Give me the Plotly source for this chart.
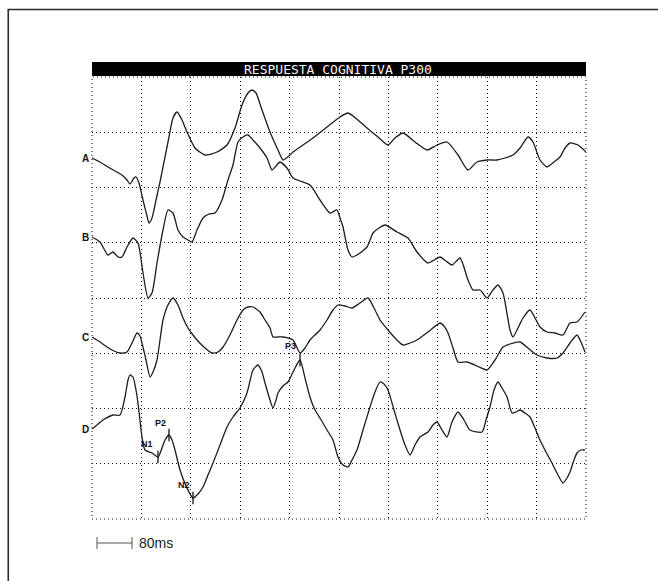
import numpy as np
import plotly.graph_objects as go

# ---- data: latency (ms) and amplitude (arbitrary units, relative to channel baseline) ----
a_t = [0, 16, 32, 46, 60, 70, 76, 84, 88, 94, 102, 110, 114, 120, 128, 136, 152, 162, 170, 180,
       190, 206, 226, 250, 270, 286, 300, 312, 320, 328, 340, 356, 372, 382, 396, 402, 442, 470,
       496, 512, 532, 550, 572, 592, 606, 622, 646, 670, 690, 710, 732, 752, 770, 790, 810, 826,
       842, 856, 872, 882, 896, 910, 924, 936, 946, 956, 972, 988]
a_v = [0, -0.4, -0.9, -1.3, -1.7, -2.2, -2.6, -2.0, -1.9, -2.5, -4.2, -5.8, -6.5, -6.0, -4.2, -2.4,
       1.6, 4.0, 4.6, 3.8, 2.6, 1.0, 0.3, 0.6, 1.3, 3.0, 5.3, 6.5, 6.8, 6.5, 4.8, 2.6, 0.8, -0.2,
       0.3, 0.6, 2.0, 3.1, 4.1, 4.5, 3.8, 3.0, 2.1, 1.3, 2.0, 2.5, 1.6, 0.8, 1.3, 1.6, 0.3, -1.2,
       -0.4, -0.2, -0.2, 0.0, 0.3, 1.0, 2.1, 1.6, -0.2, -0.9, -0.4, 0.1, 1.0, 1.5, 1.3, 0.6]

b_t = [0, 16, 32, 42, 52, 60, 70, 82, 92, 102, 112, 120, 130, 142, 152, 162, 172, 182, 192, 200,
       210, 222, 234, 246, 260, 272, 282, 292, 302, 312, 322, 336, 350, 360, 368, 376, 390, 402,
       436, 456, 476, 490, 496, 502, 512, 520, 530, 550, 562, 574, 586, 610, 632, 650, 672, 696,
       708, 720, 736, 752, 762, 776, 790, 802, 812, 822, 836, 842, 852, 862, 876, 886, 896, 910,
       926, 942, 956, 970, 986]
b_v = [0, -0.5, -1.8, -1.5, -2.0, -2.0, -1.0, -0.1, -0.6, -3.6, -6.1, -5.6, -2.6, 0.7, 2.7, 2.4,
       0.7, 0.0, -0.3, -0.5, 0.7, 1.9, 2.3, 2.4, 3.7, 5.7, 7.2, 9.5, 10.0, 10.2, 9.7, 8.9, 7.9,
       6.7, 7.1, 7.5, 6.9, 5.9, 5.2, 3.7, 2.4, 2.7, 1.9, 1.0, -1.3, -2.0, -1.8, -1.0, 0.4, 0.9,
       1.2, 0.5, -0.1, -1.5, -2.6, -2.0, -2.4, -2.8, -2.1, -4.3, -5.3, -5.3, -6.1, -5.3, -4.8,
       -5.6, -9.3, -10.0, -9.1, -8.1, -7.3, -8.1, -9.0, -9.5, -9.6, -9.8, -8.6, -8.5, -7.5]

c_t = [0, 16, 30, 44, 56, 70, 80, 90, 96, 100, 108, 116, 122, 130, 136, 142, 152, 162, 172, 182,
       192, 202, 210, 226, 240, 252, 262, 276, 290, 302, 312, 322, 336, 346, 356, 362, 372, 382,
       402, 416, 426, 436, 456, 470, 482, 492, 506, 520, 536, 552, 566, 576, 592, 606, 622, 636,
       650, 672, 696, 704, 712, 722, 732, 750, 770, 790, 806, 822, 836, 856, 872, 890, 910, 930,
       942, 956, 970, 978, 986]
c_v = [0, -0.5, -1.0, -1.4, -1.6, -1.5, -0.6, 0.4, 0.1, -0.6, -2.3, -4.0, -3.5, -2.3, -0.3, 1.7,
       3.2, 3.9, 3.2, 1.9, 0.9, 0.2, -0.3, -1.1, -1.6, -1.5, -1.0, 0.2, 1.7, 2.7, 3.0, 3.0, 2.5,
       1.7, 0.9, 0.0, 0.0, 0.0, -0.3, -1.6, -1.1, -0.3, 0.7, 1.7, 2.7, 3.2, 3.1, 2.9, 3.4, 3.9,
       2.7, 1.7, 0.7, -0.1, -0.8, -0.6, -0.3, 0.5, 1.4, 1.1, 0.4, -1.1, -2.5, -2.5, -2.9, -3.3,
       -2.3, -1.0, -0.7, -0.5, -1.1, -1.8, -2.1, -2.1, -1.6, -0.6, 0.2, -0.5, -1.5]

d_t = [0, 10, 22, 42, 56, 66, 72, 76, 82, 88, 92, 100, 106, 120, 132, 140, 146, 154, 160, 166,
       176, 190, 202, 212, 222, 232, 242, 256, 270, 282, 296, 310, 322, 332, 340, 346, 356, 362,
       368, 372, 382, 392, 404, 416, 426, 436, 446, 456, 470, 482, 492, 502, 512, 520, 530, 542,
       556, 566, 576, 584, 592, 604, 616, 626, 636, 646, 656, 672, 682, 690, 700, 710, 720, 732,
       744, 756, 780, 788, 796, 804, 812, 820, 830, 840, 848, 856, 866, 876, 886, 896, 908, 920,
       932, 942, 950, 956, 964, 970, 978, 986]
d_v = [0, 0.4, 0.9, 1.4, 1.4, 3.2, 4.9, 5.4, 5.2, 3.9, 2.6, -0.8, -2.1, -2.4, -2.8, -1.9, -1.1,
       -0.6, -1.1, -2.1, -4.1, -5.9, -6.9, -6.5, -5.8, -4.6, -3.4, -1.6, 0.2, 1.2, 2.1, 3.6, 5.9,
       6.4, 5.7, 4.6, 2.9, 2.1, 2.9, 3.6, 4.3, 4.7, 5.9, 6.9, 5.1, 3.2, 1.9, 1.1, -0.1, -1.1,
       -2.8, -3.6, -3.8, -3.1, -2.1, -0.1, 2.2, 3.7, 4.7, 4.5, 3.9, 1.9, -0.1, -1.6, -2.6, -1.6,
       -0.8, -0.3, 0.4, 0.7, -0.1, -0.8, 0.7, 1.7, 0.9, -0.1, -0.3, 0.9, 2.2, 3.9, 4.7, 4.1, 3.2,
       1.6, 1.7, 1.9, 1.6, 1.2, 0.1, -1.1, -2.3, -3.4, -4.6, -5.4, -4.9, -4.3, -3.1, -2.4, -2.1,
       -2.1]

channels = ["A", "B", "C", "D"]
peak_names = ["N1", "P2", "N2", "P3"]
peak_lat = [132, 154, 202, 416]
scale_label = "80ms"
title_text = "RESPUESTA COGNITIVA P300"

# ---- layout constants (positions / styles) ----
offsets = {"A": 36.1, "B": 28.2, "C": 18.2, "D": 9.0}
X_MAX = 988
Y_MAX = 44.2
TRACE_COLOR = "#1c1c1c"
DOT = "1px,3px"

series = {"A": (a_t, a_v), "B": (b_t, b_v), "C": (c_t, c_v), "D": (d_t, d_v)}

fig = go.Figure()
for ch in channels:
    t, v = series[ch]
    fig.add_trace(go.Scatter(
        x=t, y=np.array(v) + offsets[ch], mode="lines",
        line=dict(color=TRACE_COLOR, width=1.3, shape="spline", smoothing=0.6),
        hoverinfo="skip", showlegend=False))

# peak tick marks on trace D
pk_y = np.interp(peak_lat, d_t, d_v) + offsets["D"]
fig.add_trace(go.Scatter(
    x=peak_lat, y=pk_y, mode="markers",
    marker=dict(symbol="line-ns", size=9, line=dict(color="#111", width=1.3)),
    hoverinfo="skip", showlegend=False))

label_shift = {"N1": (-11, 13), "P2": (-9, 12), "N2": (-9, 13), "P3": (-10, 14)}
for name, lat, yy in zip(peak_names, peak_lat, pk_y):
    dx, dy = label_shift[name]
    fig.add_annotation(x=lat, y=yy, text=f"<b>{name}</b>", showarrow=False,
                       xshift=dx, yshift=dy,
                       font=dict(family="Liberation Sans", size=9, color="#111"))

for ch in channels:
    fig.add_annotation(x=0, y=offsets[ch], text=f"<b>{ch}</b>", showarrow=False,
                       xanchor="right", xshift=-1,
                       font=dict(family="Liberation Sans", size=10, color="#111"))

# dotted plot frame (edge grid lines)
fig.add_shape(type="rect", xref="paper", yref="paper", x0=0, x1=1, y0=0, y1=1,
              line=dict(color="#111", width=1, dash=DOT), layer="below")

# title bar
fig.add_shape(type="rect", xref="paper", yref="paper", x0=0, x1=1, y0=1.002, y1=1.034,
              fillcolor="black", line=dict(width=0))
fig.add_annotation(xref="paper", yref="paper", x=0.498, y=1.0175, text=title_text,
                   showarrow=False, yanchor="middle",
                   font=dict(family="DejaVu Sans Mono", size=13, color="#f4f4f4"))

# outer frame (top and left edges)
fig.add_shape(type="line", xref="paper", yref="paper", x0=-0.171, x1=1.2, y0=1.1527, y1=1.1527,
              line=dict(color="#2a2a2a", width=1.6))
fig.add_shape(type="line", xref="paper", yref="paper", x0=-0.1695, x1=-0.1695, y0=-0.2, y1=1.1527,
              line=dict(color="#2a2a2a", width=1.6))

# scale bar
sb_y = -0.0543
fig.add_shape(type="line", xref="paper", yref="paper", x0=0.0101, x1=0.081, y0=sb_y, y1=sb_y,
              line=dict(color="#555", width=1))
for xx in (0.0101, 0.081):
    fig.add_shape(type="line", xref="paper", yref="paper", x0=xx, x1=xx,
                  y0=sb_y - 0.0136, y1=sb_y + 0.0136, line=dict(color="#555", width=1))
fig.add_annotation(xref="paper", yref="paper", x=0.092, y=sb_y, text=scale_label,
                   showarrow=False, xanchor="left", yanchor="middle",
                   font=dict(family="Liberation Sans", size=14, color="#222"))

grid = dict(showgrid=True, gridcolor="#111", gridwidth=1, griddash=DOT,
            zeroline=False, showticklabels=False, ticks="", showline=False)
fig.update_xaxes(range=[0, X_MAX], tick0=0, dtick=X_MAX / 10, **grid)
fig.update_yaxes(range=[0, Y_MAX], tick0=0, dtick=Y_MAX / 8, **grid)

fig.update_layout(width=658, height=581, margin=dict(l=92, r=72, t=77, b=62),
                  plot_bgcolor="white", paper_bgcolor="white")

fig.write_html("out.html")
